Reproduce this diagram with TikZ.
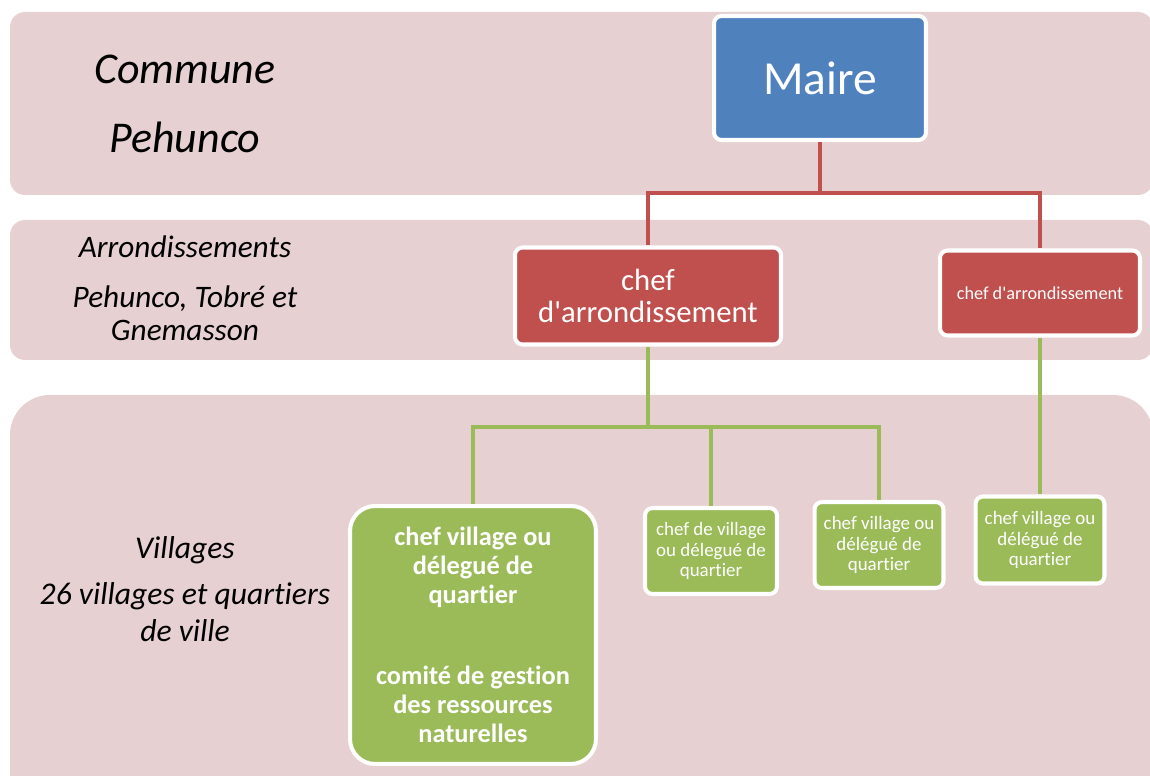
\documentclass[tikz,border=0pt]{standalone}
\usepackage{fontspec}
\setmainfont{Carlito}[Ligatures=NoCommon]
\usepackage{tikz}
\usetikzlibrary{positioning, calc}
\usepackage{xcolor}

\definecolor{bandpink}{HTML}{E6D0D1}
\definecolor{maireblue}{HTML}{4F81BD}
\definecolor{chefred}{HTML}{C0504D}
\definecolor{villgreen}{HTML}{9BBB59}

\begin{document}
\begin{tikzpicture}[x=0.02cm, y=-0.02cm,
        band/.style={fill=bandpink, rounded corners=0.3cm},
        orgbox/.style={draw=white, line width=2.3pt, rounded corners=0.15cm, text=white, align=center, inner sep=0pt},
        redline/.style={draw=chefred, line width=2.3pt},
        greenline/.style={draw=villgreen, line width=2.3pt},
        level/.style={font=\itshape, align=center}]

            \useasboundingbox (0,0) rectangle (1150,776);

            % --- bandes de fond ---
            \fill[band] (10,12) rectangle (1153,195);
            \fill[band] (10,220) rectangle (1153,360);
            \fill[band, rounded corners=0.8cm] (10,395) rectangle (1153,830);

            % --- niveaux (texte a gauche) ---
            \node[level, font=\itshape\fontsize{25}{39}\selectfont] (commune) at (185,104) {Commune\\Pehunco};
            \node[level, font=\itshape\fontsize{17.8}{18.7}\selectfont] (arrond) at (185,288) {Arrondissements\\[10pt]Pehunco, Tobré et\\Gnemasson};
            \node[level, font=\itshape\fontsize{18}{21}\selectfont] (villages) at (185,589) {Villages\\[5pt]26 villages et quartiers\\de ville};

            % --- maire ---
            \node[orgbox, fill=maireblue, minimum width=4.24cm, minimum height=2.48cm, font=\fontsize{27}{32}\selectfont] (maire) at (820,78) {Maire};

            % --- chefs d'arrondissement ---
            \node[orgbox, fill=chefred, minimum width=5.32cm, minimum height=1.94cm, font=\fontsize{17.5}{18}\selectfont] (arr1) at (648,296) {chef\\d\textquotesingle arrondissement};
            \node[orgbox, fill=chefred, minimum width=4.0cm, minimum height=1.7cm, font=\fontsize{10.4}{12}\selectfont] (arr2) at (1040,293) {chef d\textquotesingle arrondissement};

            % --- villages ---
            \node[orgbox, fill=villgreen, rounded corners=0.5cm, minimum width=4.92cm, minimum height=5.16cm, font=\bfseries\fontsize{15}{16.5}\selectfont] (v1) at (473,635) {chef village ou\\délegué de\\quartier\\[29.5pt]comité de gestion\\des ressources\\naturelles};
            \node[orgbox, fill=villgreen, minimum width=2.64cm, minimum height=1.72cm, font=\fontsize{10.8}{11.9}\selectfont] (v2) at (711,551) {chef de village\\ou délegué de\\quartier};
            \node[orgbox, fill=villgreen, minimum width=2.58cm, minimum height=1.72cm, font=\fontsize{10.8}{11.9}\selectfont] (v3) at (879,545) {chef village ou\\délégué de\\quartier};
            \node[orgbox, fill=villgreen, minimum width=2.58cm, minimum height=1.74cm, font=\fontsize{10.8}{11.9}\selectfont] (v4) at (1040,540) {chef village ou\\délégué de\\quartier};

            % --- liaisons ---
            \coordinate (rj) at (820,193);
            \coordinate (gj) at (648,427);
            \draw[redline] (maire) -- (rj) -| (arr1);
            \draw[redline] (rj) -| (arr2);
            \draw[greenline] (arr1) -- (gj) -| (v1);
            \draw[greenline] (gj) -| (v2);
            \draw[greenline] (gj) -| (v3);
            \draw[greenline] (arr2) -- (v4);

        \end{tikzpicture}
\end{document}
